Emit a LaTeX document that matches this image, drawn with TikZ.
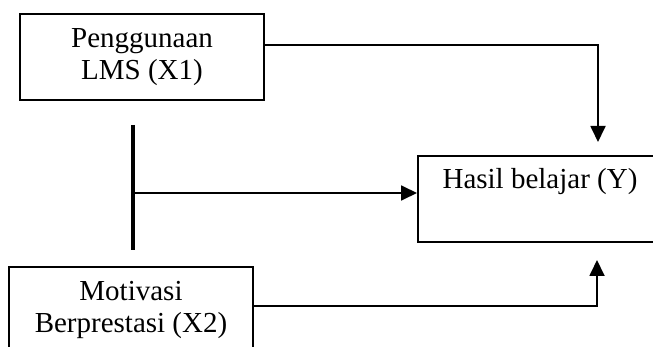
\documentclass[tikz,border=0pt]{standalone}
\usepackage{fontspec}
\setmainfont{Liberation Serif}
\usetikzlibrary{arrows.meta}
\begin{document}
\begin{tikzpicture}[x=1pt,y=-1pt,
  varbox/.style={draw,line width=2pt,minimum width=244pt,minimum height=86pt,
    align=center,inner sep=0pt,font=\fontsize{29}{32}\selectfont},
  conn/.style={line width=1.8pt},
  arr/.style={conn,-{Triangle[length=16pt,width=15pt]}}]
\useasboundingbox (0,0) rectangle (653,347);
\node[varbox] (X1) at (142,57.5) {Penggunaan\\LMS (X1)};
\node[varbox] (X2) at (131,310) {Motivasi\\Berprestasi (X2)};
\node[varbox] (Y) at (540,199) {Hasil belajar (Y)\\\strut};
\coordinate (t1) at (598,142);
\coordinate (t2) at (597,260);
\coordinate (bt) at (133,125);
\coordinate (bb) at (133,250);
\coordinate (bm) at (133,193);
\draw[arr] ([yshift=12.5pt]X1.east) -| (t1);
\draw[arr] ([yshift=4pt]X2.east) -| (t2);
\draw[line width=4pt] (bt) -- (bb);
\draw[arr] (bm) -- (bm -| Y.west);
\end{tikzpicture}
\end{document}
